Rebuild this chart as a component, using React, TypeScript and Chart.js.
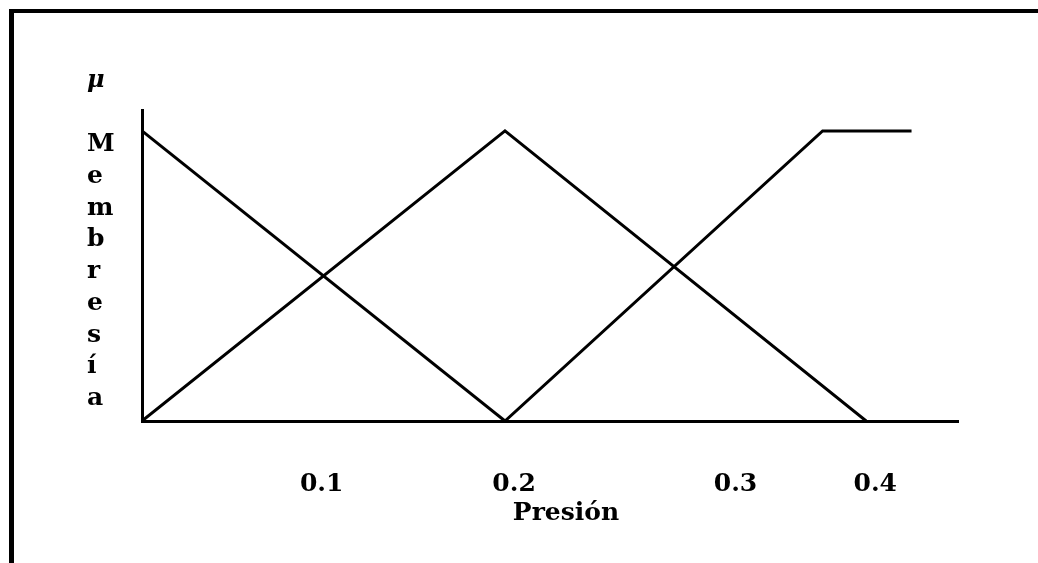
import React, { useEffect, useRef } from 'react';
import { Chart, registerables } from 'chart.js';

Chart.register(...registerables);

// Membership functions (x in the figure's drawn axis units, y = membership degree)
const lowX = [0, 0.2];
const lowY = [1, 0];
const midX = [0, 0.2, 0.399];
const midY = [0, 1, 0];
const highX = [0.2, 0.375, 0.424];
const highY = [0, 1, 1];

// Tick labels as placed in the figure
const tickValues = [0.099, 0.205, 0.327, 0.404];
const tickLabels = ['0.1', '0.2', '0.3', '0.4'];

const xTitle = 'Presión';
const yTitle = 'Membresía';
const yUnit = 'μ';

const X_MAX = 0.4496;
const Y_MAX = 1.072;

const toPoints = (xs: number[], ys: number[]) => xs.map((x, i) => ({ x, y: ys[i] }));

const axisText = {
  id: 'axisText',
  afterDraw(chart: any) {
    const { ctx, chartArea } = chart;
    ctx.save();
    ctx.fillStyle = '#000';
    ctx.textAlign = 'left';
    ctx.textBaseline = 'alphabetic';
    ctx.font = 'italic bold 24px "DejaVu Serif"';
    ctx.fillText(yUnit, chartArea.left - 55, chartArea.top - 23);
    ctx.font = 'bold 25px "DejaVu Serif"';
    Array.from(yTitle).forEach((ch, i) => {
      ctx.fillText(ch, chartArea.left - 55, chartArea.top + 41 + i * 31.75);
    });
    ctx.textAlign = 'center';
    ctx.fillText(xTitle, (chartArea.left + chartArea.right) / 2 + 16, chartArea.bottom + 99);
    ctx.restore();
  },
};

export default function App() {
  const canvasRef = useRef<HTMLCanvasElement | null>(null);

  useEffect(() => {
    if (!canvasRef.current) return;
    const lineStyle = {
      borderColor: '#000',
      borderWidth: 3,
      pointRadius: 0,
      tension: 0,
      fill: false,
    };
    const chart = new Chart(canvasRef.current, {
      type: 'line',
      data: {
        datasets: [
          { label: 'Baja', data: toPoints(lowX, lowY), ...lineStyle },
          { label: 'Media', data: toPoints(midX, midY), ...lineStyle },
          { label: 'Alta', data: toPoints(highX, highY), ...lineStyle },
        ],
      },
      options: {
        animation: false,
        responsive: false,
        maintainAspectRatio: false,
        layout: { padding: { left: 142, top: 110, right: 80, bottom: 0 } },
        plugins: {
          legend: { display: false },
          tooltip: { enabled: false },
          title: { display: false },
        },
        scales: {
          x: {
            type: 'linear',
            min: 0,
            max: X_MAX,
            grid: { display: false, drawTicks: false },
            border: { display: true, color: '#000', width: 3 },
            afterBuildTicks: (s: any) => {
              s.ticks = tickValues.map((v) => ({ value: v }));
            },
            afterFit: (s: any) => {
              s.height = 142;
            },
            ticks: {
              autoSkip: false,
              maxRotation: 0,
              minRotation: 0,
              padding: 48,
              color: '#000',
              font: { family: '"DejaVu Serif"', size: 25, weight: 'bold' },
              callback: (_v: any, i: number) => tickLabels[i],
            },
          },
          y: {
            type: 'linear',
            min: 0,
            max: Y_MAX,
            grid: { display: false, drawTicks: false },
            border: { display: true, color: '#000', width: 3 },
            ticks: { display: false },
            afterFit: (s: any) => {
              s.width = 0;
            },
          },
        },
      } as any,
      plugins: [axisText],
    });
    return () => chart.destroy();
  }, []);

  return (
    <>
      <div
        style={{
          position: 'fixed',
          left: 9,
          top: 9,
          right: 0,
          bottom: 0,
          borderLeft: '5px solid #000',
          borderTop: '4px solid #000',
          background: '#fff',
        }}
      />
      <canvas
        ref={canvasRef}
        width={1038}
        height={563}
        style={{ position: 'fixed', left: 0, top: 0, width: 1038, height: 563 }}
      />
    </>
  );
}
